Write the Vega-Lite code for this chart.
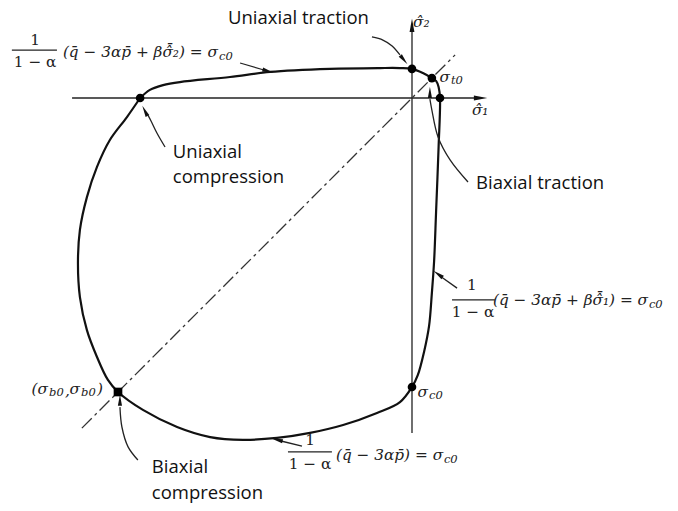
{
  "$schema": "https://vega.github.io/schema/vega-lite/v6.json",
  "width": 678,
  "height": 511,
  "autosize": {"type": "fit", "contains": "padding"},
  "padding": 0,
  "background": "white",
  "config": {"view": {"stroke": null}},
  "datasets": {
    "surface": [
      {"i": 0, "x": -9.71, "y": 0},
      {"i": 1, "x": -9.36, "y": 0.29},
      {"i": 2, "x": -8.89, "y": 0.46},
      {"i": 3, "x": -8.29, "y": 0.57},
      {"i": 4, "x": -6.5, "y": 0.75},
      {"i": 5, "x": -5.07, "y": 0.93},
      {"i": 6, "x": -2.93, "y": 1.04},
      {"i": 7, "x": -1.14, "y": 1.07},
      {"i": 8, "x": -0.43, "y": 1.07},
      {"i": 9, "x": 0, "y": 1.04},
      {"i": 10, "x": 0.39, "y": 0.89},
      {"i": 11, "x": 0.71, "y": 0.71},
      {"i": 12, "x": 0.86, "y": 0.61},
      {"i": 13, "x": 0.95, "y": 0.39},
      {"i": 14, "x": 1.0, "y": 0},
      {"i": 15, "x": 0.95, "y": -1.75},
      {"i": 16, "x": 0.86, "y": -4.07},
      {"i": 17, "x": 0.79, "y": -5.82},
      {"i": 18, "x": 0.71, "y": -6.96},
      {"i": 19, "x": 0.61, "y": -8.14},
      {"i": 20, "x": 0.43, "y": -9.07},
      {"i": 21, "x": 0.21, "y": -9.89},
      {"i": 22, "x": 0, "y": -10.32},
      {"i": 23, "x": -0.43, "y": -10.86},
      {"i": 24, "x": -1.25, "y": -11.25},
      {"i": 25, "x": -2.46, "y": -11.68},
      {"i": 26, "x": -3.64, "y": -11.96},
      {"i": 27, "x": -4.82, "y": -12.14},
      {"i": 28, "x": -6.04, "y": -12.21},
      {"i": 29, "x": -7.21, "y": -12.11},
      {"i": 30, "x": -8.39, "y": -11.75},
      {"i": 31, "x": -9.61, "y": -11.14},
      {"i": 32, "x": -10.5, "y": -10.5},
      {"i": 33, "x": -10.86, "y": -10.07},
      {"i": 34, "x": -11.25, "y": -9.25},
      {"i": 35, "x": -11.61, "y": -8.29},
      {"i": 36, "x": -11.86, "y": -7.11},
      {"i": 37, "x": -11.93, "y": -5.89},
      {"i": 38, "x": -11.86, "y": -4.71},
      {"i": 39, "x": -11.61, "y": -3.54},
      {"i": 40, "x": -11.25, "y": -2.46},
      {"i": 41, "x": -10.79, "y": -1.5},
      {"i": 42, "x": -10.18, "y": -0.68},
      {"i": 43, "x": -9.71, "y": 0}
    ],
    "rules": [
      {"kind": "axis", "x": -12.14, "y": 0, "x2": 2.4, "y2": 0},
      {"kind": "axis", "x": 0, "y": -11.96, "x2": 0, "y2": 2.55},
      {"kind": "bar", "x": -14.29, "y": 1.71, "x2": -12.68, "y2": 1.71},
      {"kind": "bar", "x": 1.43, "y": -7.21, "x2": 2.96, "y2": -7.21},
      {"kind": "bar", "x": -4.43, "y": -12.64, "x2": -2.86, "y2": -12.64}
    ],
    "diagonal": [
      {"x": -11.79, "y": -11.79, "x2": 1.54, "y2": 1.54}
    ],
    "states": [
      {"state": "uniaxial compression", "x": -9.71, "y": 0, "shape": "circle"},
      {"state": "uniaxial traction", "x": 0, "y": 1.04, "shape": "circle"},
      {"state": "biaxial traction", "x": 0.71, "y": 0.71, "shape": "circle"},
      {"state": "tension on axis 1", "x": 1.0, "y": 0, "shape": "circle"},
      {"state": "compression on axis 2", "x": 0, "y": -10.32, "shape": "circle"},
      {"state": "biaxial compression", "x": -10.5, "y": -10.5, "shape": "square"}
    ],
    "leaders": [
      {"id": "ut", "o": 0, "x": -1.43, "y": 2.18},
      {"id": "ut", "o": 1, "x": -1.04, "y": 2.07},
      {"id": "ut", "o": 2, "x": -0.71, "y": 1.86},
      {"id": "ut", "o": 3, "x": -0.43, "y": 1.54},
      {"id": "bt", "o": 0, "x": 2.0, "y": -3.0},
      {"id": "bt", "o": 1, "x": 1.36, "y": -2.21},
      {"id": "bt", "o": 2, "x": 0.93, "y": -1.39},
      {"id": "bt", "o": 3, "x": 0.71, "y": -0.43},
      {"id": "bt", "o": 4, "x": 0.64, "y": -0.04},
      {"id": "uc", "o": 0, "x": -8.82, "y": -1.75},
      {"id": "uc", "o": 1, "x": -9.11, "y": -1.25},
      {"id": "uc", "o": 2, "x": -9.32, "y": -0.82},
      {"id": "uc", "o": 3, "x": -9.43, "y": -0.61},
      {"id": "bc", "o": 0, "x": -9.79, "y": -12.93},
      {"id": "bc", "o": 1, "x": -10.14, "y": -12.46},
      {"id": "bc", "o": 2, "x": -10.36, "y": -11.75},
      {"id": "bc", "o": 3, "x": -10.43, "y": -11.04},
      {"id": "e2", "o": 0, "x": -6.14, "y": 1.25},
      {"id": "e2", "o": 1, "x": -5.29, "y": 1.0},
      {"id": "e1", "o": 0, "x": 1.61, "y": -6.79},
      {"id": "e1", "o": 1, "x": 1.0, "y": -6.36},
      {"id": "e0", "o": 0, "x": -3.93, "y": -12.43},
      {"id": "e0", "o": 1, "x": -4.68, "y": -12.25}
    ],
    "heads": [
      {"id": "axis1", "x": 2.45, "y": 0, "angle": 90, "size": 180},
      {"id": "axis2", "x": 0, "y": 2.6, "angle": 0, "size": 180},
      {"id": "ut", "x": -0.29, "y": 1.36, "angle": 141, "size": 130},
      {"id": "bt", "x": 0.64, "y": 0.2, "angle": 0, "size": 130},
      {"id": "uc", "x": -9.54, "y": -0.46, "angle": -27, "size": 130},
      {"id": "bc", "x": -10.43, "y": -10.79, "angle": 0, "size": 130},
      {"id": "e2", "x": -5.14, "y": 0.96, "angle": 106, "size": 130},
      {"id": "e1", "x": 0.93, "y": -6.29, "angle": -54, "size": 130},
      {"id": "e0", "x": -4.82, "y": -12.21, "angle": -76, "size": 130}
    ],
    "notes": [
      {"x": -6.57, "y": 2.86, "text": "Uniaxial traction"},
      {"x": 2.29, "y": -3.04, "text": "Biaxial traction"},
      {"x": -8.54, "y": -1.93, "text": "Uniaxial"},
      {"x": -8.54, "y": -2.82, "text": "compression"},
      {"x": -9.29, "y": -13.18, "text": "Biaxial"},
      {"x": -9.29, "y": -14.11, "text": "compression"}
    ],
    "mathRight": [
      {"x": -6.93, "y": 1.64, "text": "(q̄ − 3αp̄ + βσ̂̄₂) = σ"},
      {"x": 8.43, "y": -7.21, "text": "(q̄ − 3αp̄ + βσ̂̄₁) = σ"},
      {"x": 1.11, "y": -12.75, "text": "(q̄ − 3αp̄) = σ"},
      {"x": 1.36, "y": 0.75, "text": "σ"},
      {"x": 0.57, "y": -10.5, "text": "σ"},
      {"x": -13.0, "y": -10.39, "text": "(σ"},
      {"x": -11.86, "y": -10.39, "text": "σ"}
    ],
    "mathSub": [
      {"x": -6.89, "y": 1.46, "text": "c0"},
      {"x": 8.46, "y": -7.39, "text": "c0"},
      {"x": 1.14, "y": -12.93, "text": "c0"},
      {"x": 1.39, "y": 0.61, "text": "t0"},
      {"x": 0.61, "y": -10.64, "text": "c0"},
      {"x": -12.96, "y": -10.54, "text": "b0"},
      {"x": -11.82, "y": -10.54, "text": "b0"}
    ],
    "mathCenter": [
      {"x": -13.46, "y": 2.07, "text": "1"},
      {"x": -13.46, "y": 1.29, "text": "1 − α"},
      {"x": 2.14, "y": -6.68, "text": "1"},
      {"x": 2.18, "y": -7.64, "text": "1 − α"},
      {"x": -3.64, "y": -12.21, "text": "1"},
      {"x": -3.64, "y": -13.07, "text": "1 − α"}
    ],
    "mathLeft": [
      {"x": 0.04, "y": 2.71, "text": "σ̂₂"},
      {"x": 2.14, "y": -0.43, "text": "σ̂₁"},
      {"x": -12.39, "y": -10.45, "text": ","},
      {"x": -11.25, "y": -10.39, "text": ")"}
    ]
  },
  "encoding": {
    "x": {"field": "x", "type": "quantitative", "scale": {"domain": [-14.714, 9.5], "nice": false, "zero": false}, "axis": null},
    "y": {"field": "y", "type": "quantitative", "scale": {"domain": [-14.75, 3.5], "nice": false, "zero": false}, "axis": null}
  },
  "layer": [
    {
      "data": {"name": "rules"},
      "mark": {"type": "rule", "color": "#222", "strokeWidth": 1.3},
      "encoding": {"x2": {"field": "x2"}, "y2": {"field": "y2"}}
    },
    {
      "data": {"name": "diagonal"},
      "mark": {"type": "rule", "color": "#333", "strokeWidth": 1.3, "strokeDash": [14, 4, 3, 4]},
      "encoding": {"x2": {"field": "x2"}, "y2": {"field": "y2"}}
    },
    {
      "data": {"name": "surface"},
      "mark": {"type": "line", "color": "#111", "strokeWidth": 2.2, "interpolate": "catmull-rom"},
      "encoding": {"order": {"field": "i", "type": "quantitative"}}
    },
    {
      "data": {"name": "leaders"},
      "mark": {"type": "line", "color": "#222", "strokeWidth": 1.3, "interpolate": "catmull-rom"},
      "encoding": {"detail": {"field": "id"}, "order": {"field": "o", "type": "quantitative"}}
    },
    {
      "data": {"name": "heads"},
      "mark": {"type": "point", "shape": "M0,-1L0.36,1L-0.36,1Z", "filled": true, "color": "#111", "opacity": 1},
      "encoding": {
        "angle": {"field": "angle", "type": "quantitative", "scale": null},
        "size": {"field": "size", "type": "quantitative", "scale": null}
      }
    },
    {
      "data": {"name": "states"},
      "mark": {"type": "point", "filled": true, "color": "#000", "opacity": 1, "size": 75},
      "encoding": {"shape": {"field": "shape", "type": "nominal", "scale": null}}
    },
    {
      "data": {"name": "notes"},
      "mark": {"type": "text", "align": "left", "baseline": "middle", "font": "Open Sans", "fontSize": 18.5, "color": "#111"},
      "encoding": {"text": {"field": "text"}}
    },
    {
      "data": {"name": "mathRight"},
      "mark": {"type": "text", "align": "right", "baseline": "middle", "font": "DejaVu Serif", "fontStyle": "italic", "fontSize": 15.3, "color": "#222"},
      "encoding": {"text": {"field": "text"}}
    },
    {
      "data": {"name": "mathSub"},
      "mark": {"type": "text", "align": "left", "baseline": "middle", "font": "DejaVu Serif", "fontStyle": "italic", "fontSize": 11.5, "color": "#222"},
      "encoding": {"text": {"field": "text"}}
    },
    {
      "data": {"name": "mathCenter"},
      "mark": {"type": "text", "align": "center", "baseline": "middle", "font": "DejaVu Serif", "fontSize": 15.3, "color": "#222"},
      "encoding": {"text": {"field": "text"}}
    },
    {
      "data": {"name": "mathLeft"},
      "mark": {"type": "text", "align": "left", "baseline": "middle", "font": "DejaVu Serif", "fontStyle": "italic", "fontSize": 15.3, "color": "#222"},
      "encoding": {"text": {"field": "text"}}
    }
  ]
}
